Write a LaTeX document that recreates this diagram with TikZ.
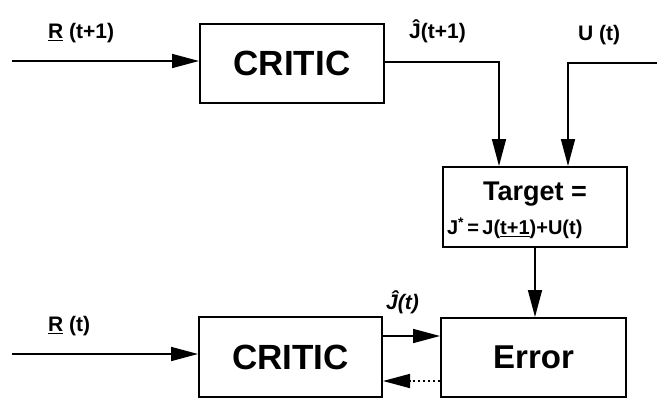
\documentclass[tikz,border=0pt]{standalone}
\usepackage{fontspec}
\setmainfont{Liberation Sans}
\usetikzlibrary{arrows.meta}
\tikzset{
  blockbox/.style={draw, line width=2pt, inner sep=0pt, font=\bfseries},
  wire/.style={line width=1.7pt},
  flow/.style={wire, -{Triangle[length=27pt,width=14pt]}},
  lbl/.style={inner sep=0pt, font=\bfseries\fontsize{21}{23}\selectfont},
}
\begin{document}
\begin{tikzpicture}[x=1pt,y=-1pt]
\path[use as bounding box] (0,0) rectangle (657,400);

% blocks
\node[blockbox, minimum width=184pt, minimum height=79pt,
      font=\bfseries\fontsize{35}{38}\selectfont] (critic1) at (292,63.5) {CRITIC};
\node[blockbox, minimum width=184pt, minimum height=80pt, align=left] (target) at (535,207)
  {\makebox[176pt]{\fontsize{27}{30}\selectfont\rule{0pt}{26pt}Target =}\\[10pt]
   \makebox[176pt][l]{\fontsize{20}{22}\selectfont J\textsuperscript{*}\,=\,J(\underline{t+1})+U(t)}};
\node[blockbox, minimum width=183pt, minimum height=80pt,
      font=\bfseries\fontsize{35}{38}\selectfont] (critic2) at (290.5,357) {CRITIC};
\node[blockbox, minimum width=185pt, minimum height=79pt,
      font=\bfseries\fontsize{33}{36}\selectfont] (error) at (533.5,357.5) {Error};

% end points of the wires
\coordinate (in1) at (12,61);
\coordinate (in2) at (12,354);
\coordinate (jnext) at (499,62);
\coordinate (uin) at (657,63);
\coordinate (ubend) at (568,63);
\coordinate (fwd) at (0,336);
\coordinate (back) at (0,381);

% connectors
\draw[flow] (in1) -- (in1 -| critic1.west);
\draw[flow] (critic1.east |- jnext) -- (jnext) -- (jnext |- target.north);
\draw[flow] (uin) -- (ubend) -- (ubend |- target.north);
\draw[flow] (target.south) -- (target.south |- error.north);
\draw[flow] (in2) -- (in2 -| critic2.west);
\draw[flow] (critic2.east |- fwd) -- (error.west |- fwd);
\draw[flow, dash pattern=on 2pt off 3pt] (error.west |- back) -- (critic2.east |- back);

% labels
\node[lbl, anchor=west] (lr1) at (48,33) {\underline{R} (t+1)};
\node[lbl, anchor=west] (lj1) at (409,31) {Ĵ(t+1)};
\node[lbl, anchor=west] (lu) at (578,35) {U (t)};
\node[lbl, anchor=west] (lr2) at (48,326) {\underline{R} (t)};
\node[lbl, anchor=west, font=\bfseries\itshape\fontsize{21}{23}\selectfont] (lj2) at (386,302) {Ĵ(t)};
\end{tikzpicture}
\end{document}
